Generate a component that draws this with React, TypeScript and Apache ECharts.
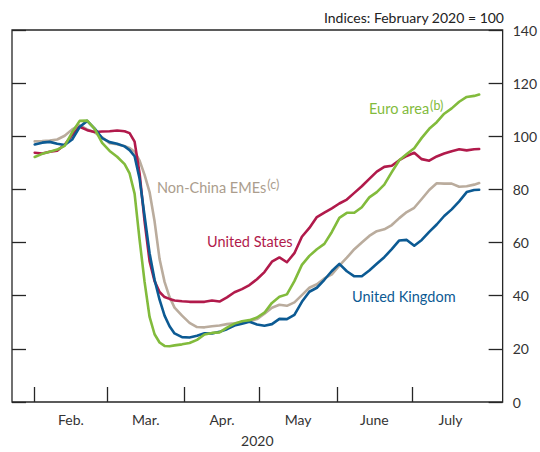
import React, { useEffect, useRef } from 'react';
import * as echarts from 'echarts';

// Daily observation dates (2020), MM-DD
const dates = [
  '02-01', '02-04', '02-07', '02-10', '02-13', '02-16', '02-19', '02-22', '02-25', '02-28',
  '03-02', '03-05', '03-08', '03-10', '03-12', '03-14', '03-16', '03-18', '03-20', '03-22',
  '03-24', '03-26', '03-28', '03-31',
  '04-03', '04-06', '04-09', '04-12', '04-15', '04-18', '04-21', '04-24', '04-27', '04-30',
  '05-03', '05-06', '05-09', '05-12', '05-15', '05-18', '05-21', '05-24', '05-27', '05-30',
  '06-02', '06-05', '06-08', '06-11', '06-14', '06-17', '06-20', '06-23', '06-26', '06-29',
  '07-02', '07-05', '07-08', '07-11', '07-14', '07-17', '07-20', '07-23', '07-26', '07-28',
];

const unitedStates = [
  93.8, 93.5, 94.2, 94.6, 96.8, 100.5, 103.6, 102.3, 101.6, 101.8,
  101.9, 102.2, 101.9, 101.2, 98.0, 86.0, 68.0, 53.0, 45.5, 41.4,
  39.5, 38.8, 38.2, 37.9,
  37.7, 37.7, 37.7, 38.2, 37.8, 39.4, 41.3, 42.5, 44.0, 46.2,
  48.9, 52.8, 54.4, 52.6, 56.0, 62.2, 65.5, 69.6, 71.3, 72.9,
  74.7, 76.2, 78.7, 81.2, 84.0, 86.7, 88.5, 88.9, 91.0, 92.6,
  93.8, 91.4, 90.8, 92.4, 93.5, 94.4, 95.1, 94.7, 95.1, 95.2,
];

const euroArea = [
  92.2, 93.4, 94.2, 95.0, 96.4, 101.5, 105.8, 105.9, 102.8, 97.5,
  94.5, 92.3, 89.5, 86.0, 78.4, 61.0, 45.2, 32.0, 25.5, 22.4,
  21.1, 21.0, 21.3, 21.7,
  22.2, 23.4, 25.4, 26.0, 26.2, 28.0, 29.5, 30.4, 30.8, 31.8,
  33.6, 37.3, 39.6, 40.5, 45.5, 51.6, 55.0, 57.5, 59.5, 64.0,
  69.3, 71.2, 71.2, 73.3, 77.0, 79.0, 81.8, 86.5, 91.0, 93.3,
  95.5, 99.4, 102.8, 105.3, 108.5, 110.5, 113.0, 114.8, 115.2, 115.7,
];

const unitedKingdom = [
  96.9, 97.6, 97.9, 97.2, 96.7, 98.8, 103.5, 105.8, 102.9, 99.3,
  97.8, 97.2, 96.2, 94.8, 92.5, 84.0, 70.0, 56.0, 46.0, 38.5,
  32.5, 28.5, 25.8, 24.4,
  24.3, 24.9, 25.9, 25.8, 26.4, 27.4, 28.8, 29.5, 30.2, 29.2,
  28.7, 29.3, 31.3, 31.2, 32.8, 37.7, 41.5, 43.0, 46.0, 49.3,
  52.0, 49.2, 47.3, 47.3, 49.5, 52.0, 54.5, 57.5, 60.8, 61.0,
  58.8, 61.0, 64.0, 66.8, 70.0, 72.5, 75.5, 79.0, 79.8, 79.9,
];

const nonChinaEMEs = [
  98.1, 98.2, 98.4, 98.8, 100.2, 102.6, 104.2, 102.6, 101.5, 99.6,
  97.4, 97.0, 96.3, 95.6, 94.2, 90.8, 85.5, 79.0, 68.0, 53.8,
  45.2, 39.5, 35.5, 32.5,
  29.8, 28.2, 28.1, 28.5, 28.8, 29.3, 29.6, 30.0, 30.4, 31.2,
  33.2, 35.5, 36.6, 36.2, 37.5, 40.2, 43.0, 44.3, 46.5, 48.0,
  51.3, 54.3, 57.5, 60.0, 62.5, 64.3, 65.0, 66.6, 69.2, 71.5,
  73.1, 76.4, 79.8, 82.3, 82.2, 82.2, 81.0, 81.2, 81.8, 82.4,
];

const monthLabels = ['Feb.', 'Mar.', 'Apr.', 'May', 'June', 'July'];
const monthStarts = ['02-01', '03-01', '04-01', '05-01', '06-01', '07-01', '08-01'];

const yMin = 0;
const yMax = 140;
const yStep = 20;

const dayOfYear = (md: string) => {
  const [m, d] = md.split('-').map(Number);
  return (Date.UTC(2020, m - 1, d) - Date.UTC(2020, 0, 1)) / 86400000;
};

const COLORS = {
  us: '#b11a4b',
  euro: '#82bb3c',
  uk: '#0c5a93',
  eme: '#baac9d',
  emeText: '#ab9d8d',
  axis: '#262626',
};

const FONT = 'Lato, "Noto Sans", sans-serif';

export default function App() {
  const ref = useRef<HTMLDivElement>(null);

  useEffect(() => {
    if (!ref.current) return;
    const chart = echarts.init(ref.current, undefined, { renderer: 'svg' });

    const startDays = monthStarts.map(dayOfYear);
    const tickDays = startDays.slice(0, monthLabels.length);
    const labelDays = monthLabels.map((_, i) => (startDays[i] + startDays[i + 1]) / 2);

    const toData = (vals: number[]) => dates.map((d, i) => [dayOfYear(d), vals[i]]);

    const line = (name: string, vals: number[], color: string) => ({
      name,
      type: 'line',
      data: toData(vals),
      showSymbol: false,
      symbol: 'none',
      lineStyle: { color, width: 2.6, join: 'round', cap: 'round' },
      itemStyle: { color },
      emphasis: { disabled: true },
      z: 2,
    });

    const labelStyle = (color: string) => ({
      a: { fontSize: 14.5, fontFamily: FONT, fill: color, color, verticalAlign: 'bottom' },
      s: { fontSize: 12.5, fontFamily: FONT, fill: color, color, verticalAlign: 'bottom', padding: [0, 0, 4, 1] },
    });

    chart.setOption({
      animation: false,
      grid: {
        left: 12,
        top: 30,
        width: 492,
        height: 379,
        show: true,
        borderColor: COLORS.axis,
        borderWidth: 1.3,
        backgroundColor: 'transparent',
        containLabel: false,
      },
      xAxis: {
        type: 'value',
        min: dayOfYear('02-01') - 9.1,
        max: dayOfYear('02-01') + 187.4,
        axisLine: { show: false },
        splitLine: { show: false },
        axisTick: {
          show: true,
          inside: true,
          length: 15,
          customValues: tickDays,
          lineStyle: { color: COLORS.axis, width: 1.3 },
        },
        axisLabel: {
          show: true,
          customValues: labelDays,
          margin: 10,
          fontSize: 14,
          fontFamily: FONT,
          color: '#333',
          formatter: (v: number) => {
            const idx = labelDays.findIndex((x) => Math.abs(x - v) < 0.01);
            return idx >= 0 ? monthLabels[idx] : '';
          },
        },
        name: '2020',
        nameLocation: 'middle',
        nameGap: 31,
        nameTextStyle: { fontSize: 14, fontFamily: FONT, color: '#333' },
      },
      yAxis: [
        {
          type: 'value',
          position: 'right',
          min: yMin,
          max: yMax,
          interval: yStep,
          axisLine: { show: false },
          splitLine: { show: false },
          axisTick: { show: true, inside: true, length: 14, lineStyle: { color: COLORS.axis, width: 1.3 } },
          axisLabel: { margin: 10, fontSize: 14, fontFamily: FONT, color: '#333', align: 'left' },
        },
        {
          type: 'value',
          position: 'left',
          min: yMin,
          max: yMax,
          interval: yStep,
          axisLine: { show: false },
          splitLine: { show: false },
          axisTick: { show: true, inside: true, length: 14, lineStyle: { color: COLORS.axis, width: 1.3 } },
          axisLabel: { show: false },
        },
      ],
      series: [
        line('Non-China EMEs', nonChinaEMEs, COLORS.eme),
        line('United States', unitedStates, COLORS.us),
        line('United Kingdom', unitedKingdom, COLORS.uk),
        line('Euro area', euroArea, COLORS.euro),
      ],
      graphic: [
        {
          type: 'text',
          x: 504,
          y: 17,
          style: {
            text: 'Indices: February 2020 = 100',
            fontSize: 14,
            fontFamily: FONT,
            fill: '#222',
            align: 'right',
            verticalAlign: 'middle',
          },
        },
        {
          type: 'text',
          x: 369,
          y: 107,
          style: {
            text: '{a|Euro area}{s|(b)}',
            rich: labelStyle(COLORS.euro),
            verticalAlign: 'middle',
          },
        },
        {
          type: 'text',
          x: 157,
          y: 186,
          style: {
            text: '{a|Non-China EMEs}{s|(c)}',
            rich: labelStyle(COLORS.emeText),
            verticalAlign: 'middle',
          },
        },
        {
          type: 'text',
          x: 207,
          y: 241,
          style: {
            text: 'United States',
            fontSize: 14.5,
            fontFamily: FONT,
            fill: COLORS.us,
            verticalAlign: 'middle',
          },
        },
        {
          type: 'text',
          x: 352,
          y: 296,
          style: {
            text: 'United Kingdom',
            fontSize: 14.5,
            fontFamily: FONT,
            fill: COLORS.uk,
            verticalAlign: 'middle',
          },
        },
      ],
    });

    return () => chart.dispose();
  }, []);

  return (
    <div
      ref={ref}
      style={{ position: 'fixed', left: 0, top: 0, width: 540, height: 452, background: '#fff' }}
    />
  );
}
